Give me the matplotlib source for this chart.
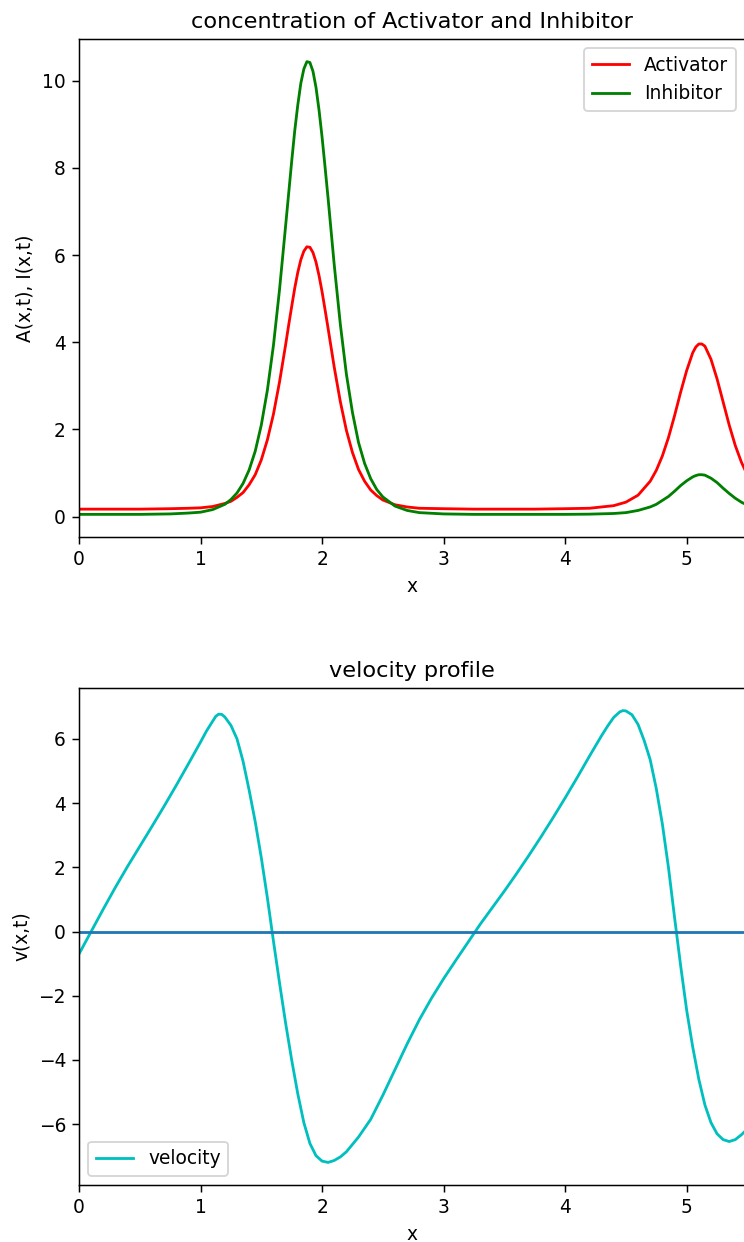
import matplotlib
matplotlib.use('Agg')
import matplotlib.pyplot as plt

# concentration profiles
x_conc = [0.0, 0.25, 0.5, 0.75, 0.9, 1.0, 1.1, 1.2, 1.25, 1.3, 1.35, 1.4, 1.45,
          1.5, 1.55, 1.6, 1.65, 1.7, 1.725, 1.75, 1.775, 1.8, 1.825, 1.85,
          1.875, 1.9, 1.925, 1.95, 1.975, 2.0, 2.025, 2.05,
          2.1, 2.15, 2.2, 2.25, 2.3, 2.35, 2.4, 2.45, 2.5, 2.6, 2.7, 2.8,
          3.0, 3.25, 3.5, 3.75, 4.0, 4.2, 4.4, 4.5, 4.6, 4.7, 4.75, 4.8,
          4.85, 4.9, 4.95, 5.0, 5.05, 5.075, 5.1, 5.125, 5.15, 5.2, 5.25,
          5.3, 5.35, 5.4, 5.45, 5.5]
activator = [0.17, 0.17, 0.17, 0.18, 0.19, 0.20, 0.23, 0.30, 0.35, 0.44, 0.55,
             0.73, 0.96, 1.30, 1.76, 2.35, 3.09, 3.94, 4.39, 4.82, 5.24, 5.60,
             5.89, 6.09, 6.19, 6.18, 6.06, 5.84, 5.53, 5.16, 4.74, 4.31,
             3.43, 2.64, 1.98, 1.47, 1.08, 0.81, 0.61, 0.48,
             0.38, 0.27, 0.22, 0.19, 0.18, 0.17, 0.17, 0.17, 0.18, 0.19, 0.25,
             0.33, 0.49, 0.81, 1.06, 1.39, 1.81, 2.31, 2.85, 3.35, 3.76, 3.89,
             3.96, 3.96, 3.91, 3.61, 3.16, 2.63, 2.10, 1.63, 1.25, 0.95]
inhibitor = [0.05, 0.05, 0.05, 0.06, 0.08, 0.10, 0.16, 0.28, 0.39, 0.54, 0.76,
             1.07, 1.50, 2.10, 2.90, 3.93, 5.21, 6.67, 7.41, 8.15, 8.85, 9.44,
             9.94, 10.27, 10.44, 10.42, 10.22, 9.85, 9.33, 8.71, 8.01, 7.29,
             5.78, 4.42, 3.27, 2.39, 1.70, 1.22, 0.87,
             0.62, 0.45, 0.24, 0.14, 0.09, 0.06, 0.05, 0.05, 0.05, 0.05, 0.055,
             0.07, 0.09, 0.14, 0.22, 0.28, 0.37, 0.46, 0.58, 0.71, 0.82, 0.91,
             0.94, 0.96, 0.96, 0.95, 0.88, 0.78, 0.65, 0.53, 0.42, 0.33, 0.26]

# velocity profile
x_vel = [0.0, 0.1, 0.2, 0.3, 0.4, 0.5, 0.6, 0.7, 0.8, 0.9, 1.0, 1.05, 1.1,
         1.125, 1.15, 1.175, 1.2, 1.25, 1.3, 1.35, 1.4, 1.45, 1.5, 1.55,
         1.6, 1.65, 1.7, 1.75, 1.8, 1.85, 1.9, 1.95, 2.0, 2.05, 2.1, 2.15,
         2.2, 2.3, 2.4, 2.5, 2.6, 2.7, 2.8, 2.9, 3.0, 3.1, 3.2, 3.3, 3.4,
         3.5, 3.6, 3.7, 3.8, 3.9, 4.0, 4.1, 4.2, 4.3, 4.35, 4.4, 4.45,
         4.475, 4.5, 4.55, 4.6, 4.65, 4.7, 4.75, 4.8, 4.85, 4.9, 4.95, 5.0,
         5.05, 5.1, 5.15, 5.2, 5.25, 5.3, 5.35, 5.4, 5.45, 5.5]
velocity = [-0.7, 0.0, 0.7, 1.38, 2.03, 2.65, 3.27, 3.9, 4.55, 5.22, 5.9,
            6.25, 6.55, 6.7, 6.77, 6.76, 6.68, 6.42, 6.0, 5.3, 4.4, 3.42, 2.3,
            1.05, -0.3, -1.6, -2.85, -4.0, -5.05, -5.95, -6.6, -6.98, -7.15,
            -7.19, -7.13, -7.02, -6.86, -6.4, -5.85, -5.1, -4.3, -3.5, -2.75,
            -2.08, -1.47, -0.9, -0.34, 0.22, 0.74, 1.26, 1.8, 2.36, 2.94, 3.54,
            4.16, 4.8, 5.46, 6.1, 6.4, 6.67, 6.84, 6.88, 6.87, 6.75, 6.45,
            5.95, 5.35, 4.45, 3.35, 2.0, 0.45, -1.05, -2.45, -3.6, -4.6, -5.4,
            -5.95, -6.3, -6.48, -6.54, -6.48, -6.33, -6.15]

x_max = 5.48
dpi = 134.5

fig = plt.figure(figsize=(744/dpi, 1242/dpi), dpi=dpi)

ax1 = fig.add_axes([79/744, 1 - 537/1242, 666/744, 498/1242])
ax1.plot(x_conc, activator, 'r', label='Activator')
ax1.plot(x_conc, inhibitor, 'g', label='Inhibitor')
ax1.set_xlim(0, x_max)
ax1.set_xlabel('x')
ax1.set_ylabel('A(x,t), I(x,t)')
ax1.set_title('concentration of Activator and Inhibitor')
ax1.legend(loc='upper right')

ax2 = fig.add_axes([79/744, 1 - 1185/1242, 666/744, 497/1242])
ax2.plot(x_vel, velocity, 'c', label='velocity')
ax2.axhline(0, color='C0')
ax2.set_xlim(0, x_max)
ax2.set_xlabel('x')
ax2.set_ylabel('v(x,t)')
ax2.set_title('velocity profile')
ax2.legend(loc='lower left')

fig.savefig('out.png', dpi=dpi)
